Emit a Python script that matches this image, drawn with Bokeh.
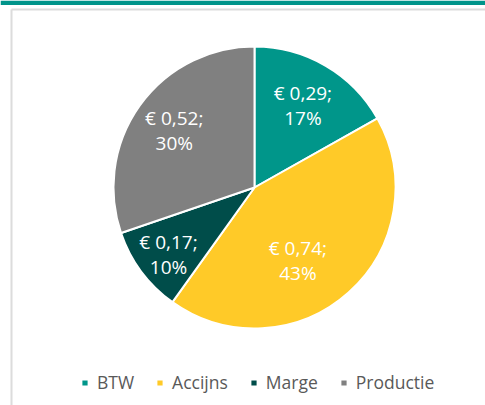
import numpy as np
from bokeh.plotting import figure
from bokeh.models import ColumnDataSource, Range1d, Legend, LegendItem
from bokeh.core.properties import value
from bokeh.embed import file_html
from bokeh.resources import INLINE

# ---- data ----
categories = ["BTW", "Accijns", "Marge", "Productie"]
amounts = [0.29, 0.74, 0.17, 0.52]
percent_labels = ["17%", "43%", "10%", "30%"]
amount_labels = ["€ 0,29;", "€ 0,74;", "€ 0,17;", "€ 0,52;"]
colors = ["#00968A", "#FFCA28", "#004D4A", "#808080"]

# ---- layout ----
W, H = 485, 405
cx, cy, R = 254, H - 187, 141
label_r = [0.68, 0.60, 0.77, 0.70]
label_shift_deg = [0, -11, 1, 0]

vals = np.array(amounts)
frac = vals / vals.sum()
ends = np.pi / 2 - 2 * np.pi * np.cumsum(frac)
starts = np.concatenate([[np.pi / 2], ends[:-1]])
mids = (starts + ends) / 2 + np.radians(label_shift_deg)
lx = cx + R * np.array(label_r) * np.cos(mids)
ly = cy + R * np.array(label_r) * np.sin(mids)

src = ColumnDataSource(dict(
    category=categories, start=starts, end=ends, color=colors,
    amt=amount_labels, pct=percent_labels, lx=lx, ly=ly,
    x=[cx] * 4, y=[cy] * 4,
))

p = figure(width=W, height=H, x_range=Range1d(0, W), y_range=Range1d(0, H),
           output_backend="svg", toolbar_location=None, min_border=0,
           background_fill_color="white", border_fill_color="white")
p.styles = {"margin-top": "0px", "margin-left": "0px"}
p.axis.visible = False
p.grid.visible = False
p.outline_line_color = None

# top teal banner and light frame
p.quad(left=0, right=W, bottom=H - 4.5, top=H, fill_color="#00948A", line_color=None)
p.segment(x0=11, y0=H - 9, x1=W, y1=H - 9, line_color="#DCDCDC", line_width=2)
p.segment(x0=11, y0=0, x1=11, y1=H - 9, line_color="#DCDCDC", line_width=2)

wedges = p.wedge(x="x", y="y", radius=R, start_angle="start", end_angle="end",
                 direction="clock", fill_color="color", line_color="white",
                 line_width=2, source=src)

common = dict(text_color="white", text_font=value("Open Sans"),
              text_font_size="19px", text_align="center", text_baseline="middle")
p.text(x="lx", y="ly", text="amt", y_offset=-12, source=src, **common)
p.text(x="lx", y="ly", text="pct", y_offset=13, source=src, **common)

legend = Legend(items=[LegendItem(label=c, renderers=[wedges], index=i)
                       for i, c in enumerate(categories)],
                orientation="horizontal", location=(80, 11),
                border_line_color=None, background_fill_alpha=0,
                padding=0, margin=0, glyph_width=9, glyph_height=9,
                label_standoff=8, spacing=21,
                label_text_font="Open Sans", label_text_font_size="17.5px",
                label_text_color="#595959")
p.add_layout(legend, "center")

open("out.html", "w").write(file_html(p, INLINE))
